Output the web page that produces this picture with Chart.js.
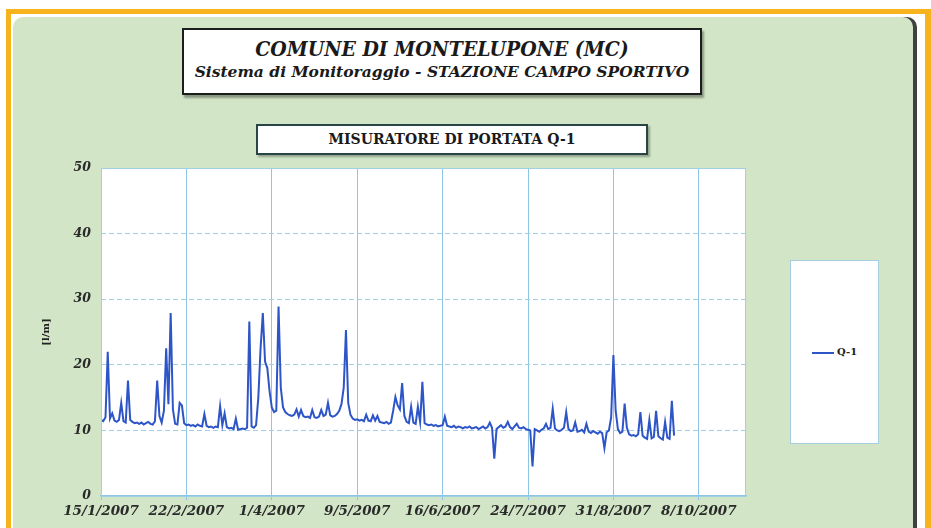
<!DOCTYPE html>
<html>
<head>
<meta charset="utf-8">
<script src="https://cdn.jsdelivr.net/npm/chart.js@4/dist/chart.umd.min.js"></script>
<style>
  body { margin: 0; width: 931px; height: 528px; position: relative; overflow: hidden; background: #fff; }
  #frame { position: absolute; left: 6px; top: 9px; right: 0; bottom: -20px; border: 5px solid #f6b31b; border-right-width: 6px; }
  #panel { position: absolute; left: 13px; top: 17px; width: 900px; height: 530px; background: #d2e6c7;
           border-radius: 10px 10px 0 0; box-shadow: 4px 0 0 #3f4040; }
  .box { position: absolute; background: #fff; text-align: center; box-sizing: border-box; }
  #titleBox { left: 182px; top: 28px; width: 520px; height: 67px; border: 2px solid #1d1d1d;
              box-shadow: 2px 3px 2px rgba(0,0,0,0.35); font-family: "DejaVu Serif", serif;
              font-weight: bold; font-style: italic; color: #1a1a1a; }
  #titleBox .t1 { font-family: "DejaVu Serif Condensed", "DejaVu Serif", serif; font-size: 21px; margin-top: 6px; line-height: 26px; }
  #titleBox .t2 { font-size: 15.5px; line-height: 19px; }
  #subBox { left: 256px; top: 124px; width: 392px; height: 31px; border: 2px solid #2a4545;
            box-shadow: 2px 2px 2px rgba(0,0,0,0.3); font-family: "DejaVu Serif", serif;
            font-weight: bold; font-size: 14px; line-height: 27px; color: #1a1a1a; }
  #legendBox { left: 790px; top: 260px; width: 89px; height: 184px; border: 1px solid #a5cfe0; }
  #legendBox .item { position: absolute; left: 21px; top: 85px; font-family: "DejaVu Serif", serif; font-weight: bold;
                     font-size: 10px; color: #222; white-space: nowrap; }
  #legendBox .swatch { display: inline-block; width: 22px; height: 0; border-top: 2px solid; vertical-align: middle; margin-right: 3px; }
  #wrap { position: absolute; left: 0; top: 0; width: 931px; height: 528px; }
</style>
</head>
<body>
<div id="frame"></div>
<div id="panel"></div>
<div class="box" id="titleBox">
  <div class="t1">COMUNE DI MONTELUPONE (MC)</div>
  <div class="t2">Sistema di Monitoraggio - STAZIONE CAMPO SPORTIVO</div>
</div>
<div class="box" id="subBox">MISURATORE DI PORTATA Q-1</div>
<div class="box" id="legendBox"></div>
<div id="wrap"><canvas id="chart" width="931" height="528"></canvas></div>
<script>
// daily flow [l/m], from 15/1/2007 to 27/9/2007, one list per month
const flowJan = [11.6, 11.4, 12.0, 22.0, 11.8, 12.6, 11.5, 11.3, 11.6, 14.2, 11.4, 11.2, 17.6, 11.6, 11.3, 11.1, 11.2];
const flowFeb = [11.0, 11.2, 10.9, 11.1, 11.3, 11.0, 10.9, 11.4, 17.6, 12.2, 11.2, 13.0, 22.5, 14.0, 27.9, 13.2,
                 11.0, 10.9, 14.2, 13.8, 11.1, 10.8, 10.9, 10.7, 10.8, 10.6, 10.9, 10.7];
const flowMar = [10.6, 12.5, 10.7, 10.5, 10.6, 10.4, 10.6, 10.5, 13.7, 10.8, 12.6, 10.5, 10.3, 10.4, 10.2, 11.8,
                 10.1, 10.2, 10.3, 10.2, 10.4, 26.6, 10.6, 10.4, 10.8, 15.0, 22.5, 27.9, 20.5, 19.5, 16.0];
const flowApr = [13.5, 12.8, 13.0, 28.9, 16.5, 13.5, 12.8, 12.5, 12.3, 12.2, 12.4, 13.2, 12.1, 13.1, 12.2, 12.0,
                 12.1, 11.9, 13.1, 12.0, 11.9, 12.1, 13.1, 12.2, 12.4, 14.2, 12.3, 12.1, 12.2, 12.5];
const flowMay = [13.0, 14.0, 16.5, 25.3, 14.2, 12.4, 11.8, 11.6, 11.7, 11.5, 11.6, 11.4, 12.4, 11.5, 11.4, 12.3,
                 11.5, 12.2, 11.3, 11.2, 11.1, 11.3, 11.0, 11.2, 13.0, 15.1, 13.8, 13.2, 17.2, 12.2, 11.3];
const flowJun = [11.1, 13.6, 11.2, 11.0, 13.6, 11.3, 17.4, 11.1, 10.9, 10.8, 10.9, 10.7, 10.8, 10.6, 10.7, 10.8,
                 12.1, 10.7, 10.6, 10.5, 10.7, 10.4, 10.6, 10.5, 10.3, 10.5, 10.4, 10.6, 10.3, 10.4];
const flowJul = [10.5, 10.2, 10.4, 10.6, 10.3, 10.5, 11.2, 10.4, 5.7, 10.2, 10.5, 10.8, 10.4, 10.6, 11.3, 10.5,
                 10.2, 10.6, 11.0, 10.4, 10.3, 10.5, 10.2, 10.1, 10.0, 4.5, 10.2, 10.0, 9.8, 10.1, 10.3];
const flowAug = [11.0, 10.2, 10.4, 13.3, 10.3, 10.0, 9.9, 10.1, 10.4, 12.8, 10.2, 9.9, 10.0, 11.2, 9.8, 9.9,
                 10.1, 9.7, 11.0, 9.8, 9.6, 9.9, 9.7, 9.5, 9.8, 9.6, 7.3, 9.7, 10.0, 12.0, 21.5];
const flowSep = [13.0, 10.2, 9.6, 9.8, 14.1, 10.4, 9.4, 9.2, 9.3, 9.1, 9.4, 12.8, 9.2, 8.9, 8.7, 11.6,
                 8.8, 9.0, 13.0, 9.1, 8.8, 8.6, 11.3, 8.9, 8.7, 14.5, 9.2];

const xTickLabels = ["15/1/2007", "22/2/2007", "1/4/2007", "9/5/2007", "16/6/2007", "24/7/2007", "31/8/2007", "8/10/2007"];
const xStepDays = 38;
const xMaxDays = 287; // 29/10/2007
const yTicks = [0, 10, 20, 30, 40, 50];

const flow = [].concat(flowJan, flowFeb, flowMar, flowApr, flowMay, flowJun, flowJul, flowAug, flowSep);
const points = flow.map((v, i) => ({ x: i, y: v }));

const tickFont = { family: "DejaVu Serif", size: 13.5, weight: "bold", style: "italic" };

// white plot background and thin frame
const plotFrame = {
    id: "plotFrame",
    beforeDraw(chart) {
        const { ctx, chartArea: a } = chart;
        ctx.save();
        ctx.fillStyle = "#ffffff";
        ctx.fillRect(a.left, a.top, a.right - a.left, a.bottom - a.top);
        ctx.restore();
    },
    afterDraw(chart) {
        const { ctx, chartArea: a } = chart;
        ctx.save();
        ctx.strokeStyle = "#9fd0e6";
        ctx.lineWidth = 1;
        ctx.strokeRect(a.left + 0.5, a.top + 0.5, a.right - a.left - 1, a.bottom - a.top);
        ctx.restore();
    }
};

const chart = new Chart(document.getElementById("chart"), {
    type: "line",
    data: {
        datasets: [{
            label: "Q-1",
            data: points,
            borderColor: "rgb(45, 85, 200)",
            borderWidth: 2,
            pointRadius: 0,
            tension: 0
        }]
    },
    options: {
        responsive: false,
        animation: false,
        layout: { padding: { left: 40, right: 185, top: 168, bottom: 0 } },
        plugins: {
            legend: { display: false },
            title: { display: false },
            tooltip: { enabled: false }
        },
        scales: {
            x: {
                type: "linear",
                min: 0,
                max: xMaxDays,
                afterFit: (s) => { s.height = 32; },
                ticks: {
                    stepSize: xStepDays,
                    autoSkip: false,
                    maxRotation: 0,
                    color: "#2a2a2a",
                    font: tickFont,
                    padding: 3,
                    callback: (v) => xTickLabels[v / xStepDays]
                },
                grid: { color: "#8cc6e4", lineWidth: 1, tickLength: 4 },
                border: { color: "#8cc6e4", width: 1.5 }
            },
            y: {
                min: 0,
                max: 50,
                afterFit: (s) => { s.width = 61; },
                afterBuildTicks: (s) => { s.ticks = yTicks.map((v) => ({ value: v })); },
                ticks: {
                    color: "#2a2a2a",
                    font: { family: "DejaVu Serif", size: 12.5, weight: "bold", style: "italic" },
                    padding: 10
                },
                grid: { color: "#9fcfe8", lineWidth: 1, drawTicks: false },
                border: { display: false, dash: [5, 3] },
                title: {
                    display: true,
                    text: "[l/m]",
                    color: "#222",
                    padding: 0,
                    font: { family: "DejaVu Serif", size: 10, weight: "bold" }
                }
            }
        }
    },
    plugins: [plotFrame]
});

// legend box built from the dataset
const legendBox = document.getElementById("legendBox");
chart.data.datasets.forEach((ds) => {
    const item = document.createElement("div");
    item.className = "item";
    item.innerHTML = '<span class="swatch" style="border-color:' + ds.borderColor + '"></span>' + ds.label;
    legendBox.appendChild(item);
});
</script>
</body>
</html>
